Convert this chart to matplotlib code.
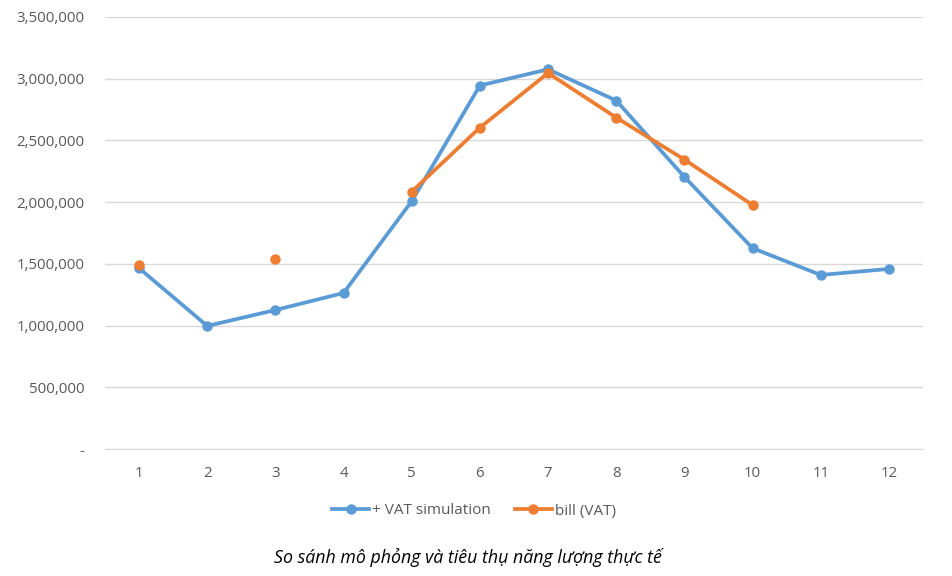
import numpy as np
import matplotlib
matplotlib.use("Agg")
import matplotlib.pyplot as plt
from matplotlib.ticker import FuncFormatter

plt.rcParams['font.family'] = ['Open Sans', 'DejaVu Sans']

months = [1, 2, 3, 4, 5, 6, 7, 8, 9, 10, 11, 12]
vat_simulation = [1465000, 997000, 1126000, 1264000, 2008000, 2945000,
                  3076000, 2823000, 2204000, 1627000, 1410000, 1459000]
bill_vat = [1490000, np.nan, 1540000, np.nan, 2085000, 2604000,
            3046000, 2685000, 2345000, 1976000, np.nan, np.nan]

BLUE = '#5B9BD5'
ORANGE = '#ED7D31'
GRID = '#D9D9D9'
TXT = '#595959'

fig = plt.figure(figsize=(9.53, 5.76), dpi=100)
ax = fig.add_axes([105 / 953, 1 - 449 / 576, 818 / 953, 432 / 576])

ax.plot(months, vat_simulation, color=BLUE, lw=2.7, marker='o', ms=6.5,
        label='+ VAT simulation', zorder=3)
ax.plot(months, bill_vat, color=ORANGE, lw=2.7, marker='o', ms=6.5,
        label='bill (VAT)', zorder=4)

ax.set_xlim(0.5, 12.5)
ax.set_ylim(0, 3500000)
ax.set_xticks(months)
ax.set_yticks(np.arange(0, 3500001, 500000))
ax.yaxis.set_major_formatter(FuncFormatter(lambda v, p: '-' if v == 0 else f'{int(v):,}'))

ax.grid(axis='y', color=GRID, lw=1)
ax.set_axisbelow(True)
for s in ['top', 'right', 'left']:
    ax.spines[s].set_visible(False)
ax.spines['bottom'].set_color(GRID)
ax.tick_params(axis='both', length=0, labelsize=10.8, colors=TXT)
ax.tick_params(axis='y', pad=15)
ax.tick_params(axis='x', pad=12)

leg = fig.legend(loc='center', bbox_to_anchor=(474 / 953, 1 - 511 / 576), ncol=2,
                 frameon=False, fontsize=11, handlelength=2.4, columnspacing=1.6,
                 handletextpad=0.2)
for t in leg.get_texts():
    t.set_color(TXT)

fig.text(468 / 953, 1 - 557 / 576, 'So sánh mô phỏng và tiêu thụ năng lượng thực tế',
         ha='center', va='center', fontsize=12.8, style='italic', color='black')

fig.savefig("out.png", dpi=100)
